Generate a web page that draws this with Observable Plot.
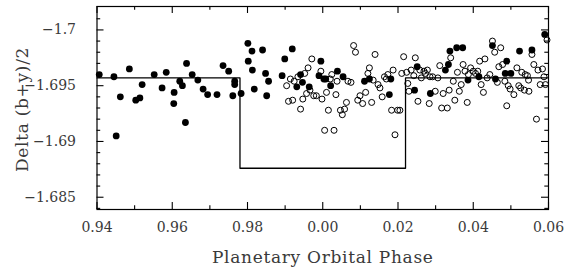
<!DOCTYPE html>
<html>
<head>
<meta charset="utf-8">
<script src="https://cdn.jsdelivr.net/npm/d3@7"></script>
<script src="https://cdn.jsdelivr.net/npm/@observablehq/plot@0.6"></script>
<style>
  html, body { margin: 0; padding: 0; background: #fff; }
  g[aria-label="text"] text { letter-spacing: 0.7px; }
</style>
</head>
<body>
<div id="chart"></div>
<script>
// Filled points (orbital phase, Delta (b+y)/2)
const filledPhase = [0.9406,0.9445,0.9486,0.9462,0.9451,0.9503,0.9514,0.9520,0.9552,0.9573,
  0.9584,0.9605,0.9604,0.9620,0.9627,0.9638,0.9635,0.9653,0.9668,0.9682,
  0.9694,0.9719,0.9735,0.9750,0.9766,0.9766,0.9761,0.9783,0.9801,0.9802,
  0.9812,0.9813,0.9818,0.9840,0.9848,0.9856,0.9851,0.9899,0.9919,0.9892,
  0.9931,0.9941,0.9946,0.9964,0.9995,0.9990,0.0003,0.0008,0.0021,0.0039,
  0.0054,0.0111,0.0124,0.0181,0.0177,0.0244,0.0251,0.0286,0.0326,0.0334,
  0.0338,0.0356,0.0372,0.0386,0.0415,0.0451,0.0459,0.0485,0.0489,0.0500,
  0.0523,0.0556,0.0590];
const filledFlux = [-1.6960,-1.6958,-1.6965,-1.6940,-1.6905,-1.6937,-1.6939,-1.6951,-1.6960,-1.6948,
  -1.6962,-1.6944,-1.6934,-1.6954,-1.6950,-1.6970,-1.6917,-1.6960,-1.6955,-1.6947,
  -1.6942,-1.6942,-1.6968,-1.6963,-1.6954,-1.6951,-1.6941,-1.6943,-1.6988,-1.6972,
  -1.6981,-1.6964,-1.6947,-1.6982,-1.6961,-1.6954,-1.6941,-1.6974,-1.6983,-1.6959,
  -1.6949,-1.6960,-1.6953,-1.6949,-1.6972,-1.6959,-1.6956,-1.6956,-1.6950,-1.6963,
  -1.6958,-1.6954,-1.6956,-1.6956,-1.6942,-1.6946,-1.6967,-1.6943,-1.6964,-1.6969,
  -1.6981,-1.6984,-1.6984,-1.6955,-1.6958,-1.6986,-1.6956,-1.6961,-1.6972,-1.6961,
  -1.6981,-1.6982,-1.6996];

// Open points
const openPhase = [0.9904,0.9914,0.9924,0.9934,0.9952,0.9961,0.9971,0.9947,0.9957,0.9966,
  0.9976,0.9983,0.9920,0.9909,0.9941,0.9998,0.0010,0.9995,0.0024,0.0020,
  0.0015,0.0005,0.0030,0.0035,0.0038,0.0082,0.0087,0.0139,0.0067,0.0075,
  0.0120,0.0124,0.0134,0.0147,0.0152,0.0114,0.0158,0.0130,0.0099,0.0093,
  0.0106,0.0063,0.0058,0.0047,0.0052,0.0164,0.0169,0.0173,0.0187,0.0183,
  0.0199,0.0205,0.0192,0.0215,0.0210,0.0223,0.0226,0.0229,0.0235,0.0246,
  0.0242,0.0258,0.0262,0.0269,0.0273,0.0278,0.0285,0.0292,0.0299,0.0306,
  0.0311,0.0320,0.0336,0.0340,0.0347,0.0316,0.0331,0.0253,0.0283,0.0351,
  0.0358,0.0363,0.0368,0.0373,0.0378,0.0384,0.0387,0.0393,0.0400,0.0406,
  0.0412,0.0417,0.0421,0.0427,0.0431,0.0437,0.0444,0.0451,0.0457,0.0464,
  0.0468,0.0473,0.0478,0.0484,0.0489,0.0493,0.0498,0.0508,0.0516,0.0521,
  0.0526,0.0529,0.0536,0.0538,0.0544,0.0548,0.0547,0.0556,0.0561,0.0572,
  0.0568,0.0584,0.0588,0.0578,0.0592,0.0596];
const openFlux = [-1.6950,-1.6956,-1.6954,-1.6958,-1.6961,-1.6966,-1.6974,-1.6938,-1.6943,-1.6946,
  -1.6941,-1.6941,-1.6937,-1.6936,-1.6929,-1.6938,-1.6944,-1.6963,-1.6960,-1.6956,
  -1.6928,-1.6910,-1.6910,-1.6942,-1.6954,-1.6986,-1.6980,-1.6978,-1.6954,-1.6953,
  -1.6961,-1.6966,-1.6955,-1.6951,-1.6948,-1.6944,-1.6940,-1.6935,-1.6941,-1.6937,
  -1.6934,-1.6935,-1.6929,-1.6928,-1.6924,-1.6958,-1.6956,-1.6960,-1.6964,-1.6928,
  -1.6928,-1.6928,-1.6906,-1.6976,-1.6961,-1.6962,-1.6952,-1.6945,-1.6964,-1.6975,
  -1.6959,-1.6964,-1.6957,-1.6963,-1.6961,-1.6964,-1.6958,-1.6958,-1.6945,-1.6957,
  -1.6968,-1.6943,-1.6946,-1.6975,-1.6954,-1.6930,-1.6930,-1.6936,-1.6934,-1.6937,
  -1.6962,-1.6945,-1.6951,-1.6969,-1.6963,-1.6935,-1.6960,-1.6966,-1.6963,-1.6961,
  -1.6963,-1.6972,-1.6951,-1.6944,-1.6974,-1.6957,-1.6960,-1.6990,-1.6980,-1.6953,
  -1.6967,-1.6984,-1.6969,-1.6954,-1.6932,-1.6950,-1.6947,-1.6942,-1.6966,-1.6950,
  -1.6948,-1.6962,-1.6946,-1.6960,-1.6959,-1.6945,-1.6955,-1.6978,-1.6969,-1.6964,
  -1.6920,-1.6965,-1.6958,-1.6951,-1.6951,-1.6991];

// Transit model (box)
const modelPhase = [0.94, 0.978, 0.978, 0.022, 0.022, 0.06];
const modelFlux = [-1.6957, -1.6957, -1.6876, -1.6876, -1.6957, -1.6957];

// Ticks and labels
const xTickPhase = [0.94, 0.96, 0.98, 0.00, 0.02, 0.04, 0.06];
const xTickLabels = ["0.94", "0.96", "0.98", "0.00", "0.02", "0.04", "0.06"];
const xMinorPhase = [0.95, 0.97, 0.99, 0.01, 0.03, 0.05];
const yTicks = [-1.7, -1.695, -1.69, -1.685];
const yTickLabels = ["\u22121.7", "\u22121.695", "\u22121.69", "\u22121.685"];
const yMinor = [-1.701, -1.699, -1.698, -1.697, -1.696, -1.694, -1.693, -1.692, -1.691,
  -1.689, -1.688, -1.687, -1.686, -1.684];

const xTitle = "Planetary Orbital Phase";
const yTitle = "Delta (b+y)/2";

// unwrap phase around 0
const unwrap = p => (p > 0.5 ? p - 1 : p);
const filled = filledPhase.map((p, i) => ({x: unwrap(p), y: filledFlux[i]}));
const open = openPhase.map((p, i) => ({x: unwrap(p), y: openFlux[i]}));
const model = modelPhase.map((p, i) => ({x: (i === 0 ? p - 1 : unwrap(p)), y: modelFlux[i]}));
const xTicks = xTickPhase.map(unwrap);
const xMinor = xMinorPhase.map(unwrap);

const W = 574, H = 275;
const mL = 96.5, mR = 26, mT = 6, mB = 66;
const frameH = H - mT - mB, frameW = W - mL - mR;
const majorLen = 7, minorLen = 3.7;

const chart = Plot.plot({
  width: W, height: H,
  marginLeft: mL, marginRight: mR, marginTop: mT, marginBottom: mB,
  x: {domain: [-0.06, 0.06]},
  y: {domain: [-1.6839, -1.7021]},
  style: {fontFamily: "'DejaVu Serif', serif", color: "#3a3a3a", background: "#fff", overflow: "visible"},
  marks: [
    // inward ticks on all four sides
    Plot.ruleX(xTicks, {x: d => d, insetTop: frameH - majorLen, stroke: "black", strokeWidth: 1.1}),
    Plot.ruleX(xTicks, {x: d => d, insetBottom: frameH - majorLen, stroke: "black", strokeWidth: 1.1}),
    Plot.ruleX(xMinor, {x: d => d, insetTop: frameH - minorLen, stroke: "black", strokeWidth: 1.1}),
    Plot.ruleX(xMinor, {x: d => d, insetBottom: frameH - minorLen, stroke: "black", strokeWidth: 1.1}),
    Plot.ruleY(yTicks, {y: d => d, insetRight: frameW - majorLen, stroke: "black", strokeWidth: 1.1}),
    Plot.ruleY(yTicks, {y: d => d, insetLeft: frameW - majorLen, stroke: "black", strokeWidth: 1.1}),
    Plot.ruleY(yMinor, {y: d => d, insetRight: frameW - minorLen, stroke: "black", strokeWidth: 1.1}),
    Plot.ruleY(yMinor, {y: d => d, insetLeft: frameW - minorLen, stroke: "black", strokeWidth: 1.1}),
    Plot.axisX({ticks: xTicks, tickSize: 0, tickPadding: 13, fontSize: 14,
      tickFormat: d => xTickLabels[xTicks.indexOf(d)], label: null}),
    Plot.axisY({ticks: yTicks, tickSize: 0, tickPadding: 21, fontSize: 14,
      tickFormat: d => yTickLabels[yTicks.indexOf(d)], label: null}),
    Plot.line(model, {x: "x", y: "y", stroke: "black", strokeWidth: 1.3}),
    Plot.dot(open, {x: "x", y: "y", r: 3, stroke: "black", strokeWidth: 1, fill: "none"}),
    Plot.dot(filled, {x: "x", y: "y", r: 3.4, fill: "black", stroke: "none"}),
    Plot.frame({stroke: "black", strokeWidth: 1.2}),
    Plot.text([xTitle], {text: d => d, frameAnchor: "bottom", dy: 48, lineAnchor: "middle", textAnchor: "middle", fontSize: 17, fill: "#3a3a3a"}),
    Plot.text([yTitle], {text: d => d, frameAnchor: "left", dx: -74.5, dy: 1.5, rotate: -90, lineAnchor: "middle", textAnchor: "middle", fontSize: 17, fill: "#3a3a3a"})
  ]
});
document.getElementById("chart").appendChild(chart);
</script>
</body>
</html>
